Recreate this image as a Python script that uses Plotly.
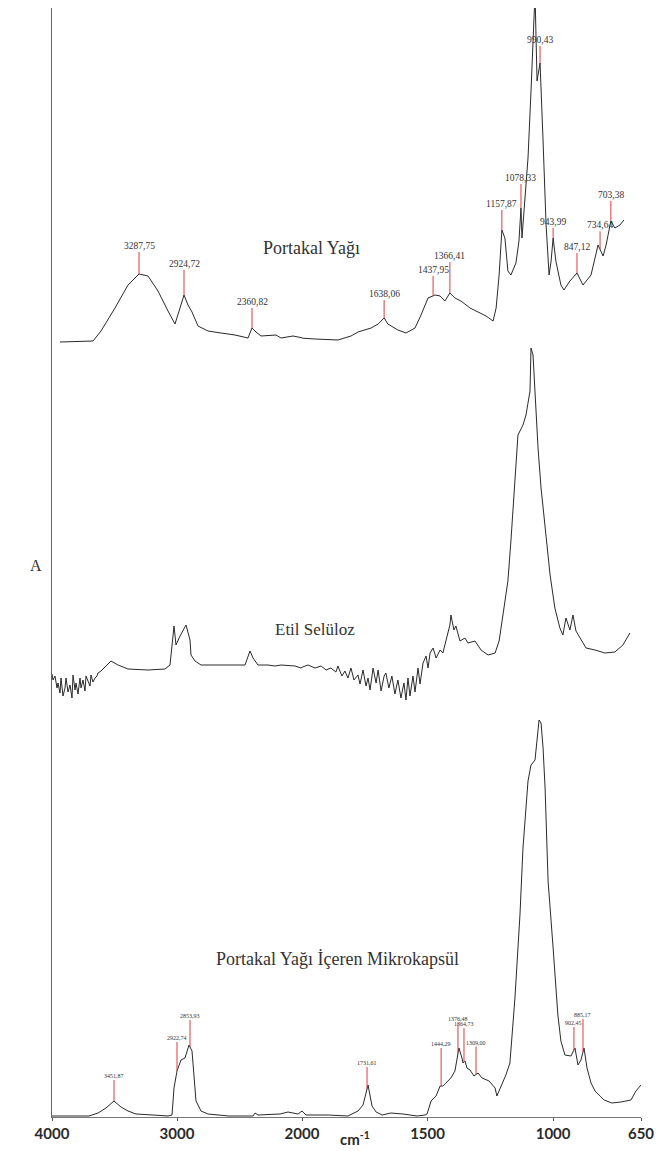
import numpy as np
import plotly.graph_objects as go

# ---------------- data (wavenumber cm-1, absorbance in arbitrary units) ----------------
# Portakal Yağı (orange oil)
PY_WN = [3936, 3672, 3608, 3496, 3392, 3304, 3232, 3152, 3072, 3016, 2976, 2944, 2912, 2880, 2832,
         2752, 2648, 2536, 2432, 2400, 2368, 2328, 2208, 2168, 2072, 2008,
         1948, 1857, 1805, 1777, 1725, 1697, 1673, 1658, 1618, 1586, 1550, 1526, 1498, 1470, 1450,
         1431, 1411, 1391, 1367, 1331, 1299, 1267, 1239, 1227, 1215, 1204, 1192, 1180, 1168, 1148,
         1136, 1128, 1124, 1112, 1100, 1088, 1072, 1064, 1052, 1040, 1028, 1016, 1008, 1000, 989,
         969, 957, 933, 905, 881, 849, 821, 801, 789, 770, 754, 734, 718]
PY_A = [0, 1, 11, 34, 57, 68, 66, 51, 31, 18, 34, 47, 37, 30, 16,
        11, 9, 7, 4, 14, 10, 6, 7, 4, 6, 4,
        3, 2, 6, 10, 14, 18, 24, 18, 12, 9, 14, 27, 44, 47, 46,
        41, 49, 44, 41, 34, 30, 26, 21, 34, 67, 112, 104, 71, 67, 79,
        101, 134, 104, 147, 184, 251, 349, 261, 279, 201, 117, 67, 81, 104, 81,
        57, 52, 61, 69, 57, 67, 97, 86, 97, 121, 114, 117, 122]

# Etil Selüloz (ethyl cellulose)
ES_WN = [4000, 3992, 3976, 3960, 3952, 3936, 3928, 3912, 3896, 3888, 3872, 3856, 3840, 3832, 3816,
         3808, 3792, 3776, 3768, 3752, 3736, 3728, 3712, 3696, 3688, 3672, 3656, 3640, 3632, 3608,
         3568, 3528, 3472, 3392, 3232, 3096, 3056, 3040, 3024, 3008, 2976, 2928, 2896, 2888, 2856,
         2808, 2696, 2536, 2456, 2416, 2392, 2352, 2272, 2216, 2168, 2056, 2008,
         1976, 1948, 1924, 1904, 1885, 1865, 1857, 1841, 1829, 1817, 1805, 1793, 1777, 1769, 1757,
         1745, 1737, 1729, 1717, 1705, 1697, 1685, 1673, 1666, 1654, 1642, 1630, 1618, 1606, 1594,
         1586, 1578, 1570, 1558, 1550, 1538, 1530, 1518, 1506, 1498, 1490, 1478, 1466, 1450, 1439,
         1427, 1411, 1407, 1395, 1387, 1371, 1351, 1339, 1311, 1287, 1259, 1231, 1215, 1200, 1180,
         1168, 1152, 1140, 1120, 1108, 1092, 1088, 1080, 1072, 1060, 1048, 1028, 1012, 993, 973,
         961, 949, 933, 921, 909, 893, 869, 833, 794, 754, 722, 694]
ES_A = [24, 18, 22, 10, 15, 5, 20, 2, 10, 20, 6, 13, 0, 23, 8,
        15, 4, 20, 10, 18, 7, 22, 17, 12, 23, 16, 20, 22, 25, 27,
        32, 37, 33, 29, 28, 29, 33, 50, 72, 53, 62, 73, 58, 43, 37,
        33, 33, 33, 33, 47, 40, 33, 33, 32, 33, 32, 30,
        33, 30, 32, 28, 30, 26, 32, 22, 27, 20, 30, 18, 23, 14, 28,
        12, 20, 8, 30, 15, 28, 7, 22, 25, 10, 22, 4, 18, 0, 15,
        -2, 20, 2, 22, 6, 30, 14, 35, 42, 30, 45, 50, 40, 48, 45,
        57, 73, 83, 68, 72, 57, 60, 55, 57, 48, 43, 45, 57, 83, 117,
        157, 217, 263, 273, 283, 307, 350, 343, 300, 250, 210, 163, 123, 90, 70,
        63, 80, 68, 83, 67, 60, 50, 48, 45, 46, 53, 65]

# Portakal Yağı İçeren Mikrokapsül (microcapsule)
MK_WN = [4000, 3704, 3632, 3568, 3504, 3448, 3392, 3328, 3192, 3072, 3040, 3024, 3000, 2968, 2936,
         2904, 2880, 2864, 2848, 2808, 2752, 2584, 2392, 2376, 2352, 2176, 2112, 2032, 2000,
         1984, 1896, 1817, 1777, 1757, 1737, 1721, 1705, 1681, 1646, 1598, 1542, 1510, 1502, 1486,
         1466, 1450, 1439, 1427, 1407, 1391, 1375, 1363, 1359, 1351, 1343, 1331, 1315, 1299, 1283,
         1255, 1231, 1224, 1204, 1188, 1172, 1152, 1132, 1120, 1100, 1088, 1072, 1056, 1048, 1040,
         1032, 1020, 1000, 981, 969, 953, 929, 913, 901, 889, 877, 865, 849, 833, 813, 797, 766,
         730, 690, 670, 650]
MK_A = [0, 0, 3, 8, 15, 9, 5, 2, 1, 0, 1, 28, 45, 56, 58,
        71, 65, 38, 15, 5, 2, 0, 0, 3, 1, 2, 4, 2, 5,
        1, 1, 0, 5, 11, 31, 10, 4, 1, 3, 2, 0, 1, 2, 15,
        20, 30, 30, 33, 38, 45, 68, 58, 53, 55, 48, 46, 40, 43, 38,
        35, 28, 20, 31, 41, 53, 118, 201, 268, 335, 351, 356, 396, 393, 368,
        328, 235, 168, 101, 75, 61, 60, 68, 51, 56, 68, 48, 33, 25, 20, 16, 13,
        14, 16, 25, 31]

# Peak labels
PY_PEAK_WN = [3304, 2944, 2400, 1673, 1478, 1411, 1204, 1128, 1052, 1000, 905, 813, 770]
PY_PEAK_TXT = ["3287,75", "2924,72", "2360,82", "1638,06", "1437,95", "1366,41", "1157,87",
               "1078,33", "990,43", "943,99", "847,12", "734,64", "703,38"]
PY_PEAK_LEN = [22, 25, 20, 18, 20, 31, 20, 24, 17, 10, 20, 18, 20]

MK_PEAK_WN = [3504, 3000, 2896, 1741, 1446, 1379, 1355, 1307, 917, 881]
MK_PEAK_TXT = ["3451,87", "2922,74", "2853,93", "1731,61", "1444,29", "1376,48", "1364,73",
               "1309,00", "902,45", "885,17"]
MK_PEAK_LEN = [21, 29, 27, 22, 38, 31, 34, 28, 23, 33]

X_TICKS_LEFT = [4000, 3000]
X_TICKS_RIGHT = [2000, 1500, 1000, 650]

# vertical stacking offsets (a.u.)
OFF_PY, OFF_ES, OFF_MK = 775, 419, 1

# ---------------- figure ----------------
W, H = 667, 1151
L, R, T, B = 44, 34, 0, 42
PW = W - L - R
split = 250 / PW
YMAX = H - T - B

fig = go.Figure()
line_col = "#2a2a2a"
red = "#e23b3b"


def add_both(x, y, color, width):
    for xa in ("x", "x2"):
        fig.add_trace(go.Scatter(x=x, y=y, mode="lines", xaxis=xa, yaxis="y",
                                 line=dict(color=color, width=width), showlegend=False,
                                 hoverinfo="skip"))


for wn, a, off in ((PY_WN, PY_A, OFF_PY), (ES_WN, ES_A, OFF_ES), (MK_WN, MK_A, OFF_MK)):
    add_both(wn, np.array(a) + off, line_col, 1)


def add_peaks(wns, txts, lens, swn, sa, off, fsize, gap):
    xs = np.array(swn[::-1], float)
    ys = np.array(sa[::-1], float) + off
    for w, t, ln in zip(wns, txts, lens):
        y0 = float(np.interp(w, xs, ys))
        xa = "x" if w >= 2000 else "x2"
        fig.add_trace(go.Scatter(x=[w, w], y=[y0, y0 + ln], mode="lines", xaxis=xa, yaxis="y",
                                 line=dict(color=red, width=1), showlegend=False,
                                 hoverinfo="skip"))
        fig.add_annotation(x=w, y=y0 + ln + gap, xref=xa, yref="y", text=t, showarrow=False,
                           yanchor="bottom", xanchor="center", borderpad=0,
                           font=dict(family="Liberation Serif", size=fsize, color="#333"))


add_peaks(PY_PEAK_WN, PY_PEAK_TXT, PY_PEAK_LEN, PY_WN, PY_A, OFF_PY, 9.5, 0)
add_peaks(MK_PEAK_WN, MK_PEAK_TXT, MK_PEAK_LEN, MK_WN, MK_A, OFF_MK, 6, 0)

axis_common = dict(showline=True, linecolor="#777", linewidth=1, ticks="outside", ticklen=3,
                   tickcolor="#555", showgrid=False, zeroline=False, anchor="y",
                   tickfont=dict(family="Lato", size=15, color="#2a2a2a", weight="bold"))

fig.update_layout(
    width=W, height=H, margin=dict(l=L, r=R, t=T, b=B),
    paper_bgcolor="white", plot_bgcolor="white",
    xaxis=dict(domain=[0, split], range=[4000, 2000], tickvals=X_TICKS_LEFT,
               ticktext=[str(v) for v in X_TICKS_LEFT], **axis_common),
    xaxis2=dict(domain=[split, 1], range=[2000, 650], tickvals=X_TICKS_RIGHT,
                ticktext=[str(v) for v in X_TICKS_RIGHT], **axis_common),
    yaxis=dict(range=[0, YMAX], showline=True, linecolor="#666", linewidth=1,
               showticklabels=False, ticks="", showgrid=False, zeroline=False),
)


def px(xp):
    return (xp - L) / PW


def py(yp):
    return (H - B - yp) / YMAX


serif = "Liberation Serif"
fig.add_annotation(x=px(303), y=py(228), xref="paper", yref="paper", text="Portakal Yağı",
                   showarrow=False, font=dict(family=serif, size=18, color="#333"))
fig.add_annotation(x=px(307), y=py(621), xref="paper", yref="paper", text="Etil Selüloz",
                   showarrow=False, font=dict(family=serif, size=17, color="#333"))
fig.add_annotation(x=px(329), y=py(963), xref="paper", yref="paper",
                   text="Portakal Yağı İçeren Mikrokapsül",
                   showarrow=False, font=dict(family=serif, size=18, color="#333"))
fig.add_annotation(x=px(20), y=py(558), xref="paper", yref="paper", text="A",
                   showarrow=False, font=dict(family=serif, size=16, color="#333"))
fig.add_annotation(x=px(347), y=py(1142), xref="paper", yref="paper", text="cm<sup>-1</sup>",
                   showarrow=False, font=dict(family="Lato", size=15, color="#2a2a2a",
                                              weight="bold"))

fig.write_html("out.html")
